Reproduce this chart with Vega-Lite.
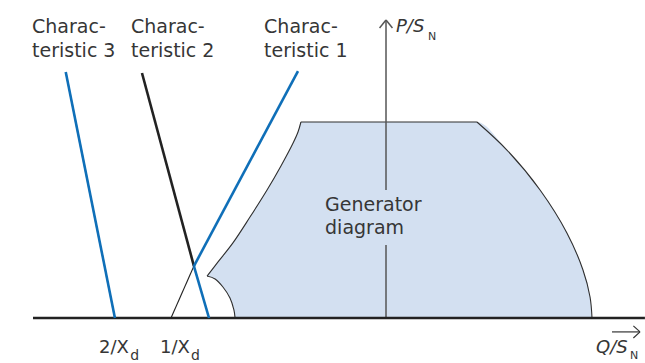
{
  "$schema": "https://vega.github.io/schema/vega-lite/v6.json",
  "width": 645,
  "height": 363,
  "autosize": "none",
  "padding": 0,
  "background": "white",
  "config": {"view": {"stroke": null}},
  "datasets": {
    "region": [
      {"q": -0.913, "p": 0.214, "p2": 0.214},
      {"q": -0.872, "p": 0.266, "p2": 0.199},
      {"q": -0.832, "p": 0.318, "p2": 0.158},
      {"q": -0.796, "p": 0.363, "p2": 0.102},
      {"q": -0.776, "p": 0.390, "p2": 0.041},
      {"q": -0.770, "p": 0.398, "p2": 0},
      {"q": -0.694, "p": 0.515, "p2": 0},
      {"q": -0.607, "p": 0.653, "p2": 0},
      {"q": -0.536, "p": 0.776, "p2": 0},
      {"q": -0.474, "p": 0.893, "p2": 0},
      {"q": -0.449, "p": 0.949, "p2": 0},
      {"q": -0.434, "p": 1.0, "p2": 0},
      {"q": 0.464, "p": 1.0, "p2": 0},
      {"q": 0.617, "p": 0.857, "p2": 0},
      {"q": 0.786, "p": 0.653, "p2": 0},
      {"q": 0.923, "p": 0.434, "p2": 0},
      {"q": 1.005, "p": 0.245, "p2": 0},
      {"q": 1.041, "p": 0.107, "p2": 0},
      {"q": 1.051, "p": 0, "p2": 0}
    ],
    "boundary": [
      {"seg": "underexcitation", "k": 1, "q": -0.770, "p": 0},
      {"seg": "underexcitation", "k": 2, "q": -0.776, "p": 0.041},
      {"seg": "underexcitation", "k": 3, "q": -0.796, "p": 0.102},
      {"seg": "underexcitation", "k": 4, "q": -0.832, "p": 0.158},
      {"seg": "underexcitation", "k": 5, "q": -0.872, "p": 0.199},
      {"seg": "underexcitation", "k": 6, "q": -0.913, "p": 0.214},
      {"seg": "stability", "k": 6, "q": -0.913, "p": 0.214},
      {"seg": "stability", "k": 7, "q": -0.857, "p": 0.286},
      {"seg": "stability", "k": 8, "q": -0.781, "p": 0.383},
      {"seg": "stability", "k": 9, "q": -0.694, "p": 0.515},
      {"seg": "stability", "k": 10, "q": -0.607, "p": 0.653},
      {"seg": "stability", "k": 11, "q": -0.536, "p": 0.776},
      {"seg": "stability", "k": 12, "q": -0.474, "p": 0.893},
      {"seg": "stability", "k": 13, "q": -0.449, "p": 0.949},
      {"seg": "stability", "k": 14, "q": -0.434, "p": 1.0},
      {"seg": "turbine", "k": 14, "q": -0.434, "p": 1.0},
      {"seg": "turbine", "k": 15, "q": 0.464, "p": 1.0},
      {"seg": "stator", "k": 15, "q": 0.464, "p": 1.0},
      {"seg": "stator", "k": 16, "q": 0.617, "p": 0.857},
      {"seg": "stator", "k": 17, "q": 0.786, "p": 0.653},
      {"seg": "stator", "k": 18, "q": 0.923, "p": 0.434},
      {"seg": "stator", "k": 19, "q": 1.005, "p": 0.245},
      {"seg": "stator", "k": 20, "q": 1.041, "p": 0.107},
      {"seg": "stator", "k": 21, "q": 1.051, "p": 0}
    ],
    "characteristics": [
      {"name": "Characteristic 3", "tone": "blue", "q": -1.634, "p": 1.255, "q2": -1.383, "p2": 0},
      {"name": "Characteristic 2", "tone": "black", "q": -1.245, "p": 1.250, "q2": -0.980, "p2": 0.265},
      {"name": "Characteristic 2", "tone": "blue", "q": -0.980, "p": 0.265, "q2": -0.903, "p2": 0},
      {"name": "Characteristic 1", "tone": "blue", "q": -0.449, "p": 1.260, "q2": -0.980, "p2": 0.265}
    ],
    "limit": [
      {"q": -0.980, "p": 0.265, "q2": -1.097, "p2": 0}
    ],
    "qaxis": [
      {"q": -1.801, "p": 0, "q2": 1.321, "p2": 0}
    ],
    "paxis": [
      {"q": 0, "p": 0, "q2": 0, "p2": 0.372},
      {"q": 0, "p": 0.653, "q2": 0, "p2": 1.520},
      {"q": 0, "p": 1.520, "q2": -0.033, "p2": 1.480},
      {"q": 0, "p": 1.520, "q2": 0.033, "p2": 1.480}
    ],
    "qarrow": [
      {"q": 1.153, "p": -0.071, "q2": 1.296, "p2": -0.071},
      {"q": 1.296, "p": -0.071, "q2": 1.262, "p2": -0.040},
      {"q": 1.296, "p": -0.071, "q2": 1.262, "p2": -0.102}
    ],
    "labels": [
      {"q": -1.806, "p": 1.454, "t": "Charac-"},
      {"q": -1.806, "p": 1.334, "t": "teristic 3"},
      {"q": -1.301, "p": 1.454, "t": "Charac-"},
      {"q": -1.301, "p": 1.334, "t": "teristic 2"},
      {"q": -0.622, "p": 1.454, "t": "Charac-"},
      {"q": -0.622, "p": 1.334, "t": "teristic 1"},
      {"q": -0.311, "p": 0.546, "t": "Generator"},
      {"q": -0.311, "p": 0.431, "t": "diagram"}
    ],
    "ticks": [
      {"q": -1.464, "p": -0.179, "t": "2/X"},
      {"q": -1.153, "p": -0.179, "t": "1/X"}
    ],
    "subs": [
      {"q": -1.305, "p": -0.212, "t": "d"},
      {"q": -0.995, "p": -0.212, "t": "d"}
    ],
    "axisTitles": [
      {"q": 0.051, "p": 1.459, "t": "P/S"},
      {"q": 1.072, "p": -0.180, "t": "Q/S"}
    ],
    "axisSubs": [
      {"q": 0.214, "p": 1.418, "t": "N"},
      {"q": 1.245, "p": -0.210, "t": "N"}
    ]
  },
  "encoding": {
    "x": {"field": "q", "type": "quantitative", "scale": {"domain": [-1.9694, 1.3214], "nice": false, "zero": false}, "axis": null},
    "y": {"field": "p", "type": "quantitative", "scale": {"domain": [-0.2296, 1.6224], "nice": false, "zero": false}, "axis": null}
  },
  "layer": [
    {
      "data": {"name": "region"},
      "mark": {"type": "area", "color": "#d3e0f1", "opacity": 1, "interpolate": "monotone"},
      "encoding": {"y2": {"field": "p2"}}
    },
    {
      "data": {"name": "boundary"},
      "mark": {"type": "line", "stroke": "#2e2e2e", "strokeWidth": 1.1, "interpolate": "catmull-rom"},
      "encoding": {
        "order": {"field": "k", "type": "quantitative"},
        "detail": {"field": "seg", "type": "nominal"}
      }
    },
    {
      "data": {"name": "paxis"},
      "mark": {"type": "rule", "stroke": "#555555", "strokeWidth": 1.5},
      "encoding": {"x2": {"field": "q2"}, "y2": {"field": "p2"}}
    },
    {
      "data": {"name": "qaxis"},
      "mark": {"type": "rule", "stroke": "#222222", "strokeWidth": 2.6},
      "encoding": {"x2": {"field": "q2"}, "y2": {"field": "p2"}}
    },
    {
      "data": {"name": "limit"},
      "mark": {"type": "rule", "stroke": "#222222", "strokeWidth": 1.1},
      "encoding": {"x2": {"field": "q2"}, "y2": {"field": "p2"}}
    },
    {
      "data": {"name": "characteristics"},
      "mark": {"type": "rule", "strokeWidth": 2.6},
      "encoding": {
        "x2": {"field": "q2"},
        "y2": {"field": "p2"},
        "color": {"field": "tone", "type": "nominal", "scale": {"domain": ["blue", "black"], "range": ["#0f6fb8", "#222222"]}, "legend": null}
      }
    },
    {
      "data": {"name": "qarrow"},
      "mark": {"type": "rule", "stroke": "#333333", "strokeWidth": 1.2},
      "encoding": {"x2": {"field": "q2"}, "y2": {"field": "p2"}}
    },
    {
      "data": {"name": "labels"},
      "mark": {"type": "text", "align": "left", "baseline": "alphabetic", "font": "DejaVu Sans", "fontSize": 19, "fill": "#363636"},
      "encoding": {"text": {"field": "t"}}
    },
    {
      "data": {"name": "ticks"},
      "mark": {"type": "text", "align": "left", "baseline": "alphabetic", "font": "DejaVu Sans", "fontSize": 18, "fill": "#363636"},
      "encoding": {"text": {"field": "t"}}
    },
    {
      "data": {"name": "subs"},
      "mark": {"type": "text", "align": "left", "baseline": "alphabetic", "font": "DejaVu Sans", "fontSize": 14, "fill": "#363636"},
      "encoding": {"text": {"field": "t"}}
    },
    {
      "data": {"name": "axisTitles"},
      "mark": {"type": "text", "align": "left", "baseline": "alphabetic", "font": "DejaVu Sans", "fontStyle": "italic", "fontSize": 18, "fill": "#363636"},
      "encoding": {"text": {"field": "t"}}
    },
    {
      "data": {"name": "axisSubs"},
      "mark": {"type": "text", "align": "left", "baseline": "alphabetic", "font": "DejaVu Sans", "fontSize": 11, "fill": "#363636"},
      "encoding": {"text": {"field": "t"}}
    }
  ]
}
